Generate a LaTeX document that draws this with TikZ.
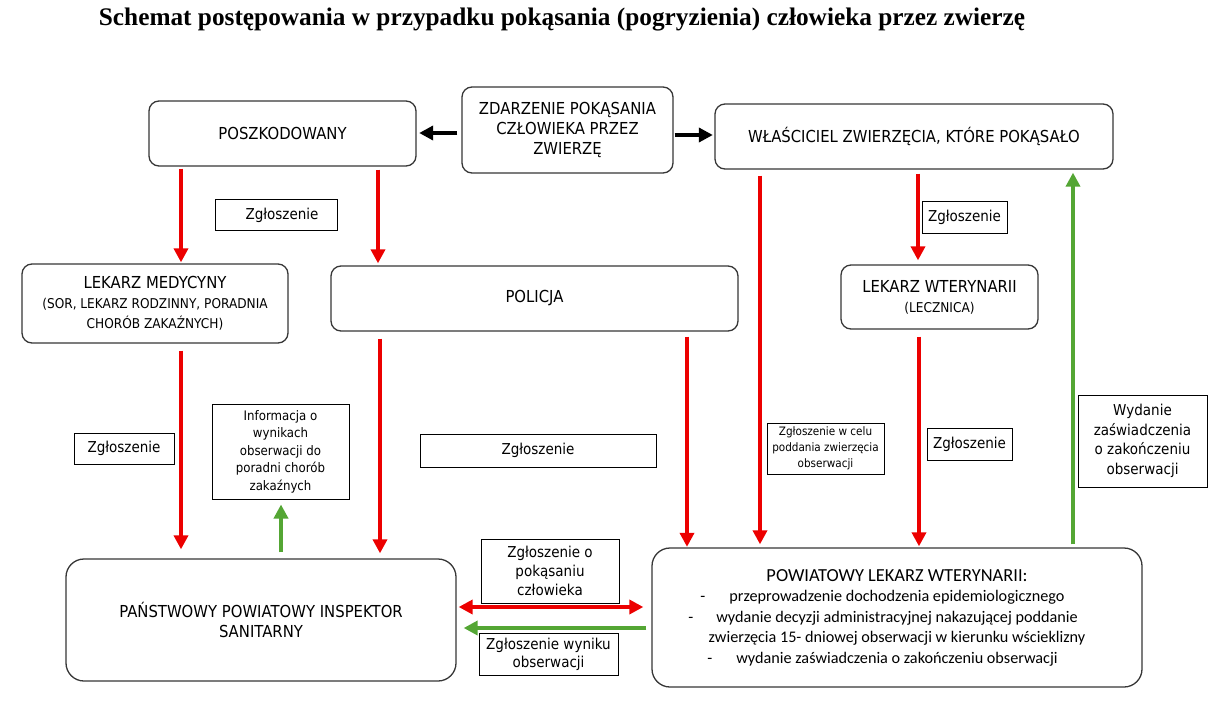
\documentclass[tikz,border=0pt]{standalone}
\usepackage{fontspec}
\setmainfont{DejaVu Sans}[FakeStretch=0.9]
\newfontfamily\titlefont{Liberation Serif}
\newfontfamily\aptos{Carlito}
\usetikzlibrary{arrows.meta}
\definecolor{myred}{RGB}{236,0,0}
\definecolor{mygreen}{RGB}{84,166,52}
\definecolor{edgec}{RGB}{55,55,55}
\newcommand{\subf}{\fontsize{13.5}{19}\selectfont}
\begin{document}
\begin{tikzpicture}[x=1pt,y=-1pt,
  rbox/.style={draw=edgec,line width=1.3pt,rounded corners=10pt,align=center,inner sep=0pt,
    font=\fontsize{16.5}{20}\selectfont},
  bigbox/.style={rbox,rounded corners=18pt},
  lbl/.style={draw=black,line width=1pt,align=center,inner sep=0pt,
    font=\fontsize{15}{19}\selectfont},
  redarr/.style={draw=myred,line width=4.5pt,-{Triangle[length=14pt,width=14pt]}},
  redboth/.style={draw=myred,line width=4.5pt,{Triangle[length=14pt,width=14pt]}-{Triangle[length=14pt,width=14pt]}},
  greenarr/.style={draw=mygreen,line width=4.5pt,-{Triangle[length=14pt,width=14pt]}},
  blackarr/.style={draw=black,line width=4pt,-{Triangle[length=14pt,width=14pt]}}
]
\useasboundingbox (0,0) rectangle (1228,707);
\fill[white] (0,0) rectangle (1228,707);

% title
\node[font=\titlefont\bfseries\fontsize{25.3}{29}\selectfont,inner sep=0pt,anchor=base] (title) at (562,25)
  {Schemat postępowania w przypadku pokąsania (pogryzienia) człowieka przez zwierzę};

% main boxes
\node[rbox,minimum width=267pt,minimum height=65pt] (poszk) at (282.5,133.5) {POSZKODOWANY};
\node[rbox,minimum width=211pt,minimum height=86pt] (zdarz) at (567.5,130)
  {ZDARZENIE POKĄSANIA\\CZŁOWIEKA PRZEZ\\ZWIERZĘ};
\node[rbox,minimum width=398pt,minimum height=65pt] (wlasc) at (914,136.5)
  {WŁAŚCICIEL ZWIERZĘCIA, KTÓRE POKĄSAŁO};
\node[rbox,minimum width=266pt,minimum height=79pt] (lekmed) at (155,303.5)
  {LEKARZ MEDYCYNY\\\subf (SOR, LEKARZ RODZINNY, PORADNIA\\\subf CHORÓB ZAKAŹNYCH)};
\node[rbox,minimum width=407pt,minimum height=65pt] (policja) at (534.5,298.5) {POLICJA};
\node[rbox,minimum width=197pt,minimum height=64pt] (lekwet) at (939.5,297)
  {LEKARZ WTERYNARII\\\fontsize{13.5}{20}\selectfont (LECZNICA)};
\node[bigbox,minimum width=390pt,minimum height=122pt] (pis) at (261,620)
  {PAŃSTWOWY POWIATOWY INSPEKTOR\\SANITARNY};
\node[bigbox,minimum width=490pt,minimum height=139pt,font=\aptos\fontsize{16.2}{20.5}\selectfont] (plw) at (897,617.5)
  {\fontsize{18.4}{20.5}\selectfont POWIATOWY LEKARZ WTERYNARII:\\
   \llap{-\hspace{24pt}}przeprowadzenie dochodzenia epidemiologicznego\\
   \llap{-\hspace{23pt}}wydanie decyzji administracyjnej nakazującej poddanie\\
   zwierzęcia 15- dniowej obserwacji w kierunku wścieklizny\\
   \llap{-\hspace{24pt}}wydanie zaświadczenia o zakończeniu obserwacji};

% label boxes
\node[lbl,minimum width=122pt,minimum height=31pt] (l1) at (276,215) {\hspace*{12pt}Zgłoszenie};
\node[lbl,minimum width=85pt,minimum height=32pt] (l2) at (964.5,217) {Zgłoszenie};
\node[lbl,minimum width=100pt,minimum height=31pt] (l3) at (124,448.5) {Zgłoszenie};
\node[lbl,minimum width=137pt,minimum height=95pt,font=\fontsize{13.1}{17.5}\selectfont] (info) at (280.5,451.5)
  {Informacja o\\wynikach\\obserwacji do\\poradni chorób\\zakaźnych};
\node[lbl,minimum width=236pt,minimum height=33pt] (l4) at (538,450.5) {Zgłoszenie};
\node[lbl,minimum width=117pt,minimum height=51pt,font=\fontsize{11.6}{16}\selectfont] (l5) at (825.5,448.5)
  {Zgłoszenie w celu\\poddania zwierzęcia\\obserwacji};
\node[lbl,minimum width=85pt,minimum height=32pt] (l6) at (969.5,444) {Zgłoszenie};
\node[lbl,minimum width=129pt,minimum height=92pt,font=\fontsize{15}{19.5}\selectfont] (l7) at (1142.5,441)
  {Wydanie\\zaświadczenia\\o zakończeniu\\obserwacji};
\node[lbl,minimum width=138pt,minimum height=64pt,font=\fontsize{15}{19}\selectfont] (l8) at (550,571)
  {Zgłoszenie o\\pokąsaniu\\człowieka};
\node[lbl,minimum width=139pt,minimum height=42pt,font=\fontsize{15}{18}\selectfont] (l9) at (548.5,654)
  {Zgłoszenie wyniku\\obserwacji};

% helper coordinates
\coordinate (xa) at (181,0);
\coordinate (xb) at (378,0);
\coordinate (xd) at (380,0);
\coordinate (xe) at (687,0);
\coordinate (xf) at (760,0);
\coordinate (xg) at (918,0);
\coordinate (xh) at (919,0);
\coordinate (xi) at (1073,0);
\coordinate (xj) at (281,0);
\coordinate (yb1) at (0,133);
\coordinate (yb2) at (0,135);
\coordinate (yk) at (0,607);
\coordinate (yl) at (0,628);

% black arrows
\draw[blackarr,shorten <=4pt,shorten >=2.5pt] (zdarz.west |- yb1) -- (poszk.east |- yb1);
\draw[blackarr,shorten <=1pt,shorten >=1.5pt] (zdarz.east |- yb2) -- (wlasc.west |- yb2);

% red vertical arrows
\draw[redarr,shorten <=2pt,shorten >=1pt] (poszk.south -| xa) -- (lekmed.north -| xa);
\draw[redarr,shorten <=3pt,shorten >=2pt] (poszk.south -| xb) -- (policja.north -| xb);
\draw[redarr,shorten <=7pt,shorten >=9pt] (lekmed.south -| xa) -- (pis.north -| xa);
\draw[redarr,shorten <=7pt,shorten >=5pt] (policja.south -| xd) -- (pis.north -| xd);
\draw[redarr,shorten <=5pt,shorten >=0.5pt] (policja.south -| xe) -- (plw.north -| xe);
\draw[redarr,shorten <=6pt,shorten >=3pt] (wlasc.south -| xf) -- (plw.north -| xf);
\draw[redarr,shorten <=4pt,shorten >=4pt] (wlasc.south -| xg) -- (lekwet.north -| xg);
\draw[redarr,shorten <=7pt,shorten >=1pt] (lekwet.south -| xh) -- (plw.north -| xh);

% green arrows
\draw[greenarr,shorten <=3pt,shorten >=3pt] (plw.north -| xi) -- (wlasc.south -| xi);
\draw[greenarr,shorten <=6pt,shorten >=5pt] (pis.north -| xj) -- (info.south -| xj);

% horizontal arrows between bottom boxes
\draw[redboth,shorten <=2pt,shorten >=8pt] (pis.east |- yk) -- (plw.west |- yk);
\draw[greenarr,shorten <=5pt,shorten >=7pt] (plw.west |- yl) -- (pis.east |- yl);
\end{tikzpicture}
\end{document}
